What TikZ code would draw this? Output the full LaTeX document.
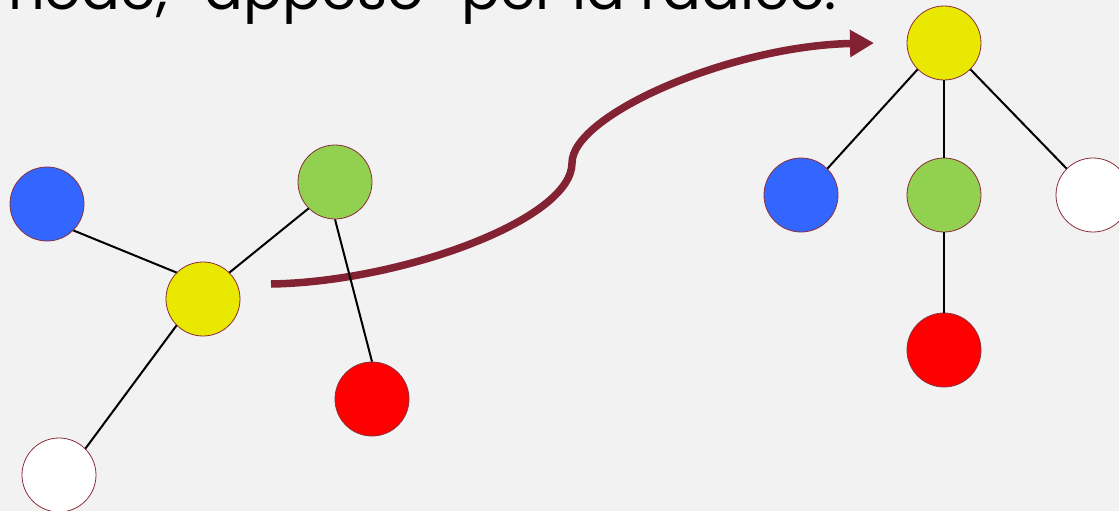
\documentclass[tikz,border=0pt]{standalone}
\usepackage{fontspec}
\setmainfont{Poppins}
\usetikzlibrary{arrows.meta}
\definecolor{bg}{HTML}{F2F2F2}
\definecolor{rim}{HTML}{8B2F3C}
\definecolor{arrowred}{HTML}{832232}
\definecolor{nblue}{HTML}{3366FF}
\definecolor{ngreen}{HTML}{92D050}
\definecolor{nyellow}{HTML}{E8E800}
\definecolor{nred}{HTML}{FF0000}
\definecolor{nwhite}{HTML}{FFFFFF}
\begin{document}
\begin{tikzpicture}[x=1pt,y=-1pt,
  vertex/.style={circle,draw=rim,line width=0.8pt,minimum size=74pt,inner sep=0pt},
  edge/.style={draw=black,line width=2pt},
  bigarrow/.style={draw=arrowred,line width=7.5pt,-{Triangle[length=24pt,width=26pt]}}]
\useasboundingbox (0,0) rectangle (1119,511);
\fill[bg] (0,0) rectangle (1119,511);
\clip (0,0) rectangle (1119,511);
% title text (partly cut off)
\node[anchor=base west,inner sep=0pt,font=\fontsize{57.5}{69}\selectfont] (title) at (8,10) {node, "appeso" per la radice.};
% left tree
\node[vertex,fill=nblue] (lb) at (47,204) {};
\node[vertex,fill=ngreen] (lg) at (335,182) {};
\node[vertex,fill=nyellow] (ly) at (203,299) {};
\node[vertex,fill=nred] (lr) at (372,399) {};
\node[vertex,fill=nwhite] (lw) at (59,475) {};
% right tree
\node[vertex,fill=nyellow] (ry) at (944,43) {};
\node[vertex,fill=nblue] (rb) at (801,195) {};
\node[vertex,fill=ngreen] (rg) at (944,195) {};
\node[vertex,fill=nwhite] (rw) at (1093,195) {};
\node[vertex,fill=nred] (rr) at (944,350) {};
% arrow
\coordinate (as) at (271,284);
\coordinate (am) at (572,163);
\coordinate (ae) at (874,43);
\draw[bigarrow] (as) .. controls (400,282) and (572,220) .. (am)
  .. controls (572,115) and (730,46) .. (ae);
% edges
\draw[edge] (lb.south east) -- (ly.north west);
\draw[edge] (ly.north east) -- (lg.south west);
\draw[edge] (lg.south) -- (lr.north);
\draw[edge] (ly.south west) -- (lw.north east);
\draw[edge] (ry.south west) -- (rb.north east);
\draw[edge] (ry.south) -- (rg.north);
\draw[edge] (ry.south east) -- (rw.north west);
\draw[edge] (rg.south) -- (rr.north);
\end{tikzpicture}
\end{document}
